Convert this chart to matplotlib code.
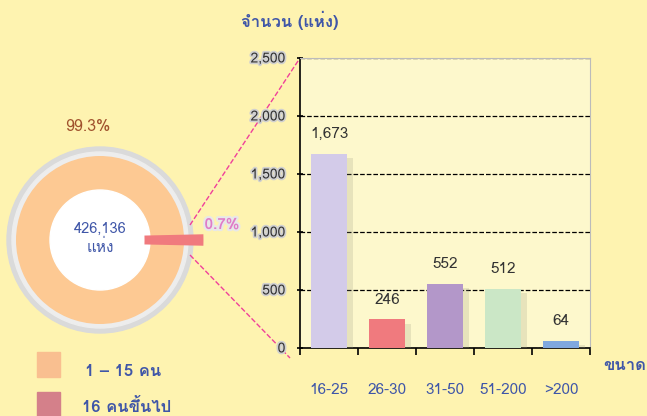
import matplotlib
matplotlib.use('agg')
import matplotlib.pyplot as plt
from matplotlib import font_manager
from matplotlib.patches import Circle
import matplotlib.patheffects as pe
from fontTools.ttLib import TTFont

# find a font with Thai glyphs
thai_font = None
for f in font_manager.fontManager.ttflist:
	try:
		cmap = TTFont(f.fname, fontNumber=0, lazy=True).getBestCmap()
	except Exception:
		continue
	if cmap and 0x0E08 in cmap:
		thai_font = f.name
		break
families = [thai_font, 'DejaVu Sans'] if thai_font else ['DejaVu Sans']
plt.rcParams['font.family'] = families

categories = ['16-25', '26-30', '31-50', '51-200', '>200']
counts = [1673, 246, 552, 512, 64]
bar_colors = ['#D3CBE9', '#F07A7E', '#B397C9', '#CBE7C6', '#7FA8DE']
pie_labels = ['1 – 15 คน', '16 คนขึ้นไป']
pie_shares = [99.3, 0.7]
total_places = 426136

bg = '#FEF3B0'
blue = '#3F56A8'

fig = plt.figure(figsize=(6.47, 4.16), dpi=100)
fig.patch.set_facecolor(bg)

# ---- bar chart
ax = fig.add_axes([300/647, 68/416, 290/647, 290/416])
ax.set_facecolor('#FDF8CC')
x = range(len(categories))
shadow = [pe.SimplePatchShadow(offset=(4, -3), shadow_rgbFace='#9a9a80', alpha=0.22), pe.Normal()]
bars = ax.bar(x, counts, width=0.62, color=bar_colors, zorder=3)
for b in bars:
	b.set_path_effects(shadow)
for i, v in enumerate(counts):
	ax.text(i, v + 110, f'{v:,}', ha='center', va='bottom', fontsize=11, color='#333333', zorder=4)
ax.set_ylim(0, 2500)
ax.set_xlim(-0.5, 4.5)
ax.set_yticks(range(0, 2501, 500))
ax.set_yticklabels([f'{v:,}' for v in range(0, 2501, 500)], fontsize=10, color='#333333')
for t in ax.get_yticklabels():
	t.set_path_effects([pe.withStroke(linewidth=2.5, foreground='#d0d0d0')])
ax.set_xticks([i - 0.5 for i in range(6)])
ax.set_xticklabels([])
ax.tick_params(axis='x', length=5, direction='out', width=1.2)
ax.tick_params(axis='y', length=5, direction='inout', width=1.2, pad=8)
ax.grid(axis='y', linestyle='--', color='black', linewidth=0.9, zorder=1)
for s in ['top', 'right']:
	ax.spines[s].set_color('#bbbbbb')
for s in ['left', 'bottom']:
	ax.spines[s].set_linewidth(1.2)
for i, c in enumerate(categories):
	ax.text(i, -0.145, c, transform=ax.get_xaxis_transform(), ha='center', va='center',
			fontsize=11, color=blue)
fig.text(290/647, 1 - 20/416, 'จำนวน (แห่ง)', ha='center', va='center', fontsize=12,
		 color=blue, fontweight='bold')
fig.text(625/647, 1 - 365/416, 'ขนาด', ha='center', va='center', fontsize=12,
		 color=blue, fontweight='bold')

# ---- donut
pax = fig.add_axes([0, 0, 1, 1], zorder=-1)
cx, cy = 100, 240
pax.add_patch(Circle((cx, cy), 93, color='#DADADA', zorder=1))
pax.add_patch(Circle((cx, cy), 88, color='#EDEDED', zorder=1))
wedges, _ = pax.pie(pie_shares, colors=['#FDC993', '#F07A7E'], radius=84, center=(cx, cy),
					startangle=pie_shares[1] * 3.6 / 2, counterclock=True,
					wedgeprops=dict(width=36, linewidth=0), frame=True)
# small slice pulled out past the ring, thickened so it stays visible
wedges[1].set_radius(100)
wedges[1].set_width(52)
wedges[1].set_edgecolor('#F07A7E')
wedges[1].set_linewidth(5)
wedges[1].set_zorder(4)
pax.set_xlim(0, 647)
pax.set_ylim(416, 0)
pax.set_aspect('equal')
pax.axis('off')
pax.add_patch(Circle((cx, cy), 50, color='white', zorder=3))
pax.text(cx, cy - 11, f'{total_places:,}', ha='center', va='center', fontsize=10.5, color=blue, zorder=4)
pax.text(cx, cy + 7, 'แห่ง', ha='center', va='center', fontsize=11, color=blue, zorder=4)
pax.text(88, 127, f'{pie_shares[0]}%', ha='center', va='center', fontsize=11.5, color='#A0522D')
pax.text(222, 225, f'{pie_shares[1]}%', ha='center', va='center', fontsize=11, color='#E07CC8',
		 fontweight='bold', path_effects=[pe.withStroke(linewidth=3, foreground='#e8e8e8')], zorder=5)
pax.plot([190, 300], [225, 58], linestyle='--', color='#F0409A', linewidth=1)
pax.plot([190, 290], [255, 358], linestyle='--', color='#F0409A', linewidth=1)

# legend
pax.add_patch(plt.Rectangle((37, 352), 23, 25, color='#F9BF90'))
pax.add_patch(plt.Rectangle((37, 392), 23, 24, color='#D4808A'))
pax.text(85, 372, pie_labels[0], ha='left', va='center', fontsize=12, color=blue, fontweight='bold')
pax.text(82, 406, pie_labels[1], ha='left', va='center', fontsize=12, color=blue, fontweight='bold')

plt.savefig('out.png', facecolor=bg)
